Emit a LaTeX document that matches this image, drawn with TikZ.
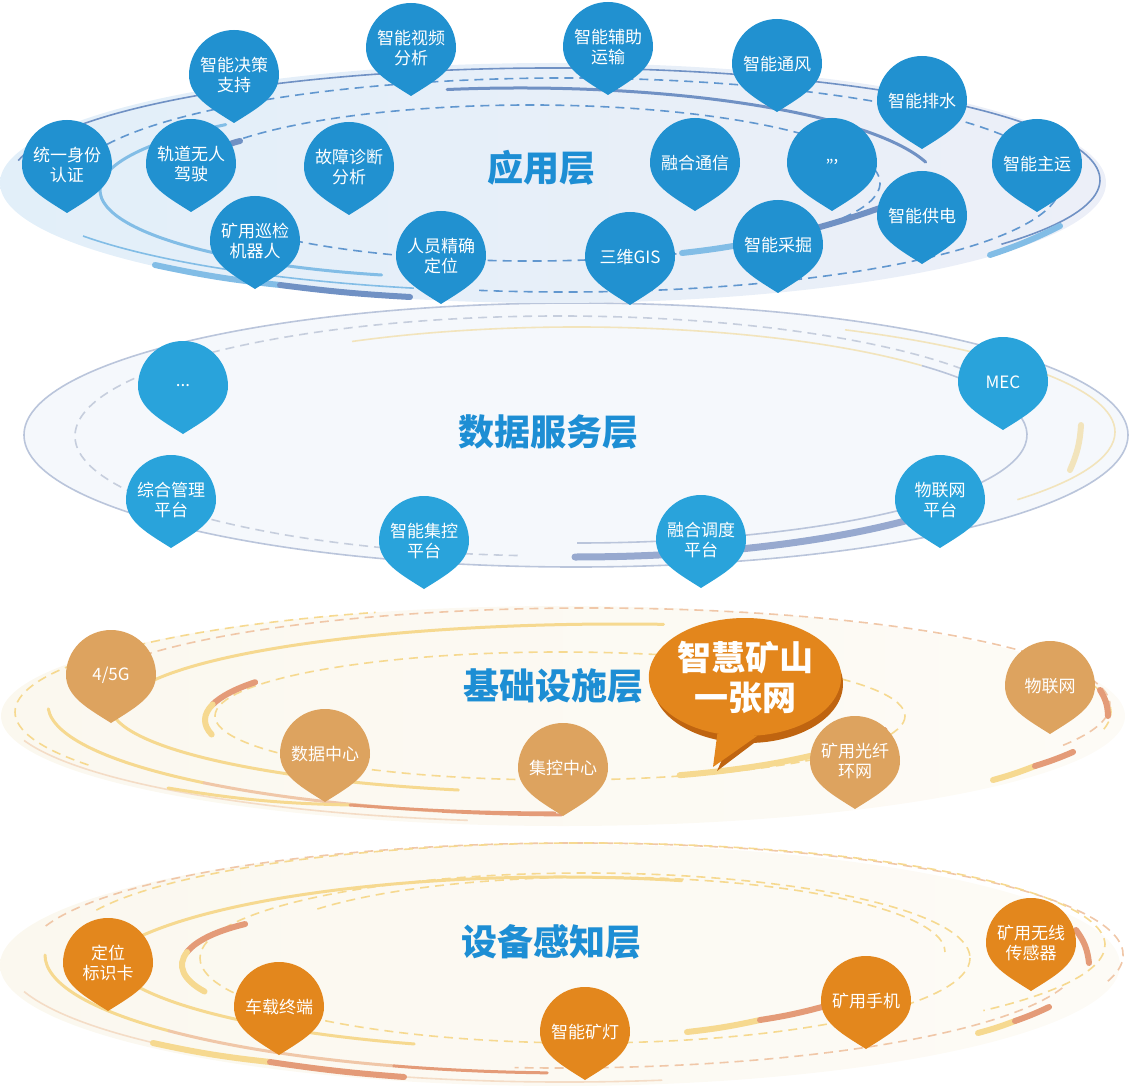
\documentclass[tikz,border=0pt]{standalone}
\usepackage{fontspec}
\setmainfont{Noto Sans CJK SC}
\usepackage{tikz}
\usetikzlibrary{shapes.geometric}

\definecolor{appblue}{HTML}{2191D0}
\definecolor{datablue}{HTML}{29A3DB}
\definecolor{infratan}{HTML}{DDA35F}
\definecolor{devorange}{HTML}{E3871D}
\definecolor{titleblue}{HTML}{1D8ED4}
\definecolor{bubbleorange}{HTML}{E3861C}
\definecolor{bubbleshade}{HTML}{BF6410}
\definecolor{appfillL}{HTML}{E2EFF9}
\definecolor{appfillR}{HTML}{ECEFF8}
\definecolor{ringlight}{HTML}{82BDE6}
\definecolor{ringsteel}{HTML}{7091C4}
\definecolor{ringdash}{HTML}{6197CF}
\definecolor{datafill}{HTML}{F5F8FC}
\definecolor{dataedge}{HTML}{BAC5DB}
\definecolor{datadash}{HTML}{C6CEDD}
\definecolor{databand}{HTML}{97A9CF}
\definecolor{datayellow}{HTML}{F2E4BC}
\definecolor{warmfillL}{HTML}{FBF8EF}
\definecolor{warmfillR}{HTML}{FDFBF6}
\definecolor{warmyellow}{HTML}{F6D990}
\definecolor{warmpeach}{HTML}{F0C7A8}
\definecolor{warmsalmon}{HTML}{E49B78}
\definecolor{warmfaint}{HTML}{F4DCC6}

\tikzset{
  drop/.style={circle, minimum size=100pt, inner sep=0pt, text=white, align=center,
    font=\fontsize{17}{20.5}\selectfont,
    path picture={\fill[#1] (path picture bounding box.center) ++(-45pt,0pt)
      arc[start angle=180, end angle=0, radius=45pt]
      .. controls +(0pt,-22pt) and +(22pt,14pt) .. ++(-45pt,-48pt)
      .. controls +(-22pt,14pt) and +(0pt,-22pt) .. ++(-45pt,48pt) -- cycle;}},
  layertitle/.style={text=titleblue, font=\bfseries\fontsize{36}{40}\selectfont},
  bubble/.style={ellipse, fill=bubbleorange, minimum width=190pt, minimum height=118pt,
    inner sep=0pt, text=white, align=center, font=\bfseries\fontsize{34}{40}\selectfont},
  thinring/.style={line width=1.6pt},
  midring/.style={line width=3pt, line cap=round},
  dashring/.style={line width=1.6pt, dash pattern=on 9pt off 6pt},
  band/.style={line width=6pt, line cap=round},
}

\begin{document}
\begin{tikzpicture}[x=1pt, y=-1pt]
  \useasboundingbox (0,0) rectangle (1138,1086);

  % device layer
  \shade[left color=warmfillL, right color=warmfillR] (560,965) ellipse (560 and 121);
  \draw[dashring, warmpeach] (575,955) ++(195:548 and 112) arc (195:375:548 and 112);
  \draw[dashring, warmyellow] (585,945) ++(200:520 and 102) arc (200:400:520 and 102);
  \draw[dashring, warmyellow] (585,958) ++(0:385 and 85) arc (0:360:385 and 85);
  \draw[dashring, warmyellow] (600,952) ++(215:345 and 75) arc (215:360:345 and 75);
  \draw[dashring, warmpeach] (560,960) ++(15:520 and 108) arc (15:95:520 and 108);
  \draw[midring, warmyellow] (560,985) ++(200:470 and 108) arc (200:285:470 and 108);
  \draw[midring, warmyellow] (575,955) ++(180:530 and 118) arc (180:140:530 and 118);
  \draw[midring, warmpeach] (575,955) ++(140:530 and 118) arc (140:110:530 and 118);
  \draw[midring, warmsalmon] (575,955) ++(110:530 and 118) arc (110:93:530 and 118);
  \draw[midring, warmyellow] (575,950) ++(165:470 and 100) arc (165:110:470 and 100);
  \draw[thinring, warmfaint] (565,960) ++(165:560 and 122) arc (165:80:560 and 122);
  \draw[band, warmyellow] (153,1043) to[bend right=3] (270,1062);
  \draw[band, warmsalmon] (270,1062) to[bend right=2] (404,1077);
  \draw[band, warmsalmon] (330,965) ++(235:148 and 50) arc (235:195:148 and 50);
  \draw[band, warmyellow] (330,965) ++(195:148 and 50) arc (195:148:148 and 50);
  \draw[band, warmyellow] (687,1032) to[bend right=3] (760,1020);
  \draw[band, warmsalmon] (760,1020) to[bend right=3] (822,1007);
  \draw[band, warmyellow] (978,1033) to[bend right=3] (1015,1021);
  \draw[band, warmsalmon] (1015,1021) to[bend right=3] (1049,1007);
  \draw[band, warmsalmon] (1076,930) to[bend left=15] (1089,963);

  % infrastructure layer
  \shade[left color=warmfillL, right color=warmfillR] (563,716) ellipse (562 and 110);
  \draw[dashring, warmpeach] (590,705) ++(200:520 and 97) arc (200:385:520 and 97);
  \draw[dashring, warmyellow] (563,712) ++(150:548 and 106) arc (150:250:548 and 106);
  \draw[dashring, warmyellow] (563,712) ++(330:548 and 106) arc (330:370:548 and 106);
  \draw[dashring, warmyellow] (560,716) ++(0:345 and 64) arc (0:360:345 and 64);
  \draw[midring, warmyellow] (620,712) ++(190:500 and 88) arc (190:275:500 and 88);
  \draw[midring, warmyellow] (580,705) ++(178:532 and 110) arc (178:135:532 and 110);
  \draw[midring, warmpeach] (580,705) ++(135:532 and 110) arc (135:105:532 and 110);
  \draw[midring, warmsalmon] (580,705) ++(105:532 and 110) arc (105:92:532 and 110);
  \draw[midring, warmyellow] (580,705) ++(178:470 and 88) arc (178:105:470 and 88);
  \draw[thinring, warmfaint] (565,712) ++(165:560 and 110) arc (165:100:560 and 110);
  \draw[midring, warmyellow] (168,788) to[bend right=4] (350,805);
  \draw[midring, warmsalmon] (350,805) to[bend right=2] (555,813);
  \draw[band, warmsalmon] (430,720) ++(219:225 and 60) arc (219:195:225 and 60);
  \draw[band, warmyellow] (430,720) ++(195:225 and 60) arc (195:166:225 and 60);
  \draw[band, warmyellow] (560,700) ++(70:350 and 80) arc (70:42:350 and 80);
  \draw[band, warmsalmon] (560,700) ++(42:350 and 80) arc (42:22:350 and 80);
  \draw[band, warmyellow] (993,780) to[bend right=3] (1035,766);
  \draw[band, warmsalmon] (1035,766) to[bend right=3] (1073,752);
  \draw[band, warmsalmon] (1100,690) to[bend left=15] (1108,716);

  % data service layer
  \fill[datafill] (576,435) ellipse (552 and 132);
  \draw[thinring, dataedge] (576,435) ellipse (552 and 132);
  \draw[dashring, datadash] (560,436) ++(95:485 and 120) arc (95:330:485 and 120);
  \draw[thinring, datayellow] (577,435) ++(240:450 and 108) arc (240:320:450 and 108);
  \draw[thinring, dataedge] (577,435) ++(320:450 and 108) arc (320:450:450 and 108);
  \draw[thinring, datayellow] (575,432) ++(300:540 and 118) arc (300:395:540 and 118);
  \draw[line width=7pt, line cap=round, databand] (575,432) ++(90:470 and 125) arc (90:45:470 and 125);
  \draw[band, datayellow] (1081,425) to[bend left=10] (1070,470);

  % application layer
  \shade[left color=appfillL, right color=appfillR] (553,183) ellipse (553 and 120);
  \draw[thinring, ringsteel] (555,180) ++(190:545 and 112) arc (190:395:545 and 112);
  \draw[thinring, ringlight] (555,180) ++(150:545 and 112) arc (150:105:545 and 112);
  \draw[dashring, ringdash] (565,185) ++(198:495 and 107) arc (198:460:495 and 107);
  \draw[dashring, ringdash] (530,183) ++(215:350 and 78) arc (215:510:350 and 78);
  \draw[midring, ringlight] (480,190) ++(228:380 and 88) arc (228:105:380 and 88);
  \draw[midring, ringsteel] (520,188) ++(260:420 and 100) arc (260:345:420 and 100);
  \draw[band, ringlight] (155,265) to[bend right=3] (280,285);
  \draw[band, ringsteel] (280,285) to[bend right=2] (410,297);
  \draw[band, ringlight] (682,253) to[bend right=2] (750,243);
  \draw[band, ringsteel] (750,243) to[bend right=4] (880,208);
  \draw[band, ringlight] (990,255) to[bend right=4] (1060,226);
  \draw[band, ringsteel] (240,141) to[bend right=40] (190,207);

  % layer titles
  \node[layertitle] (apptitle) at (541,168) {应用层};
  \node[layertitle] (datatitle) at (548,432) {数据服务层};
  \node[layertitle] (infratitle) at (553,686) {基础设施层};
  \node[layertitle] (devtitle) at (551,942) {设备感知层};

  % application pins
  \node[drop=appblue] (tongyi) at (67,165) {统一身份\\认证};
  \node[drop=appblue] (juece) at (234,75) {智能决策\\支持};
  \node[drop=appblue] (shipin) at (411,48) {智能视频\\分析};
  \node[drop=appblue] (fuzhu) at (608,47) {智能辅助\\运输};
  \node[drop=appblue] (tongfeng) at (777,64) {智能通风};
  \node[drop=appblue] (paishui) at (922,101) {智能排水};
  \node[drop=appblue] (zhuyun) at (1037,164) {智能主运};
  \node[drop=appblue] (guidao) at (191,164) {轨道无人\\驾驶};
  \node[drop=appblue] (guzhang) at (349,167) {故障诊断\\分析};
  \node[drop=appblue] (ronghe) at (695,163) {融合通信};
  \node[drop=appblue] (appmore) at (832,163) {\raisebox{5pt}{,,,}};
  \node[drop=appblue] (gongdian) at (922,216) {智能供电};
  \node[drop=appblue] (xunjian) at (255,241) {矿用巡检\\机器人};
  \node[drop=appblue] (dingwei) at (441,256) {人员精确\\定位};
  \node[drop=appblue] (gis) at (630,257) {三维GIS};
  \node[drop=appblue] (caijue) at (778,245) {智能采掘};

  % data service pins
  \node[drop=datablue] (datamore) at (183,386) {...};
  \node[drop=datablue] (mec) at (1003,382) {MEC};
  \node[drop=datablue] (zonghe) at (171,500) {综合管理\\平台};
  \node[drop=datablue] (jikong) at (424,541) {智能集控\\平台};
  \node[drop=datablue] (diaodu) at (701,540) {融合调度\\平台};
  \node[drop=datablue] (wulianpt) at (940,500) {物联网\\平台};

  % infrastructure pins
  \node[drop=infratan] (net) at (111,675) {4/5G};
  \node[drop=infratan] (datacenter) at (325,754) {数据中心};
  \node[drop=infratan] (jkcenter) at (563,768) {集控中心};
  \node[drop=infratan] (fiber) at (855,761) {矿用光纤\\环网};
  \node[drop=infratan] (wulian) at (1050,686) {物联网};

  % slogan bubble
  \fill[bubbleshade] (748,684) ellipse (95 and 59);
  \fill[bubbleshade] (733,735) -- (717,771) -- (758,740) -- cycle;
  \node[bubble] (slogan) at (745,677) {智慧矿山\\一张网};
  \coordinate (tail) at (713,767);
  \fill[bubbleorange] (slogan.244) -- (tail) -- (slogan.282) -- cycle;

  % device pins
  \node[drop=devorange] (biaoshi) at (108,963) {定位\\标识卡};
  \node[drop=devorange] (chezai) at (279,1007) {车载终端};
  \node[drop=devorange] (kuangdeng) at (585,1032) {智能矿灯};
  \node[drop=devorange] (shouji) at (866,1001) {矿用手机};
  \node[drop=devorange] (chuanganqi) at (1031,943) {矿用无线\\传感器};
\end{tikzpicture}
\end{document}
